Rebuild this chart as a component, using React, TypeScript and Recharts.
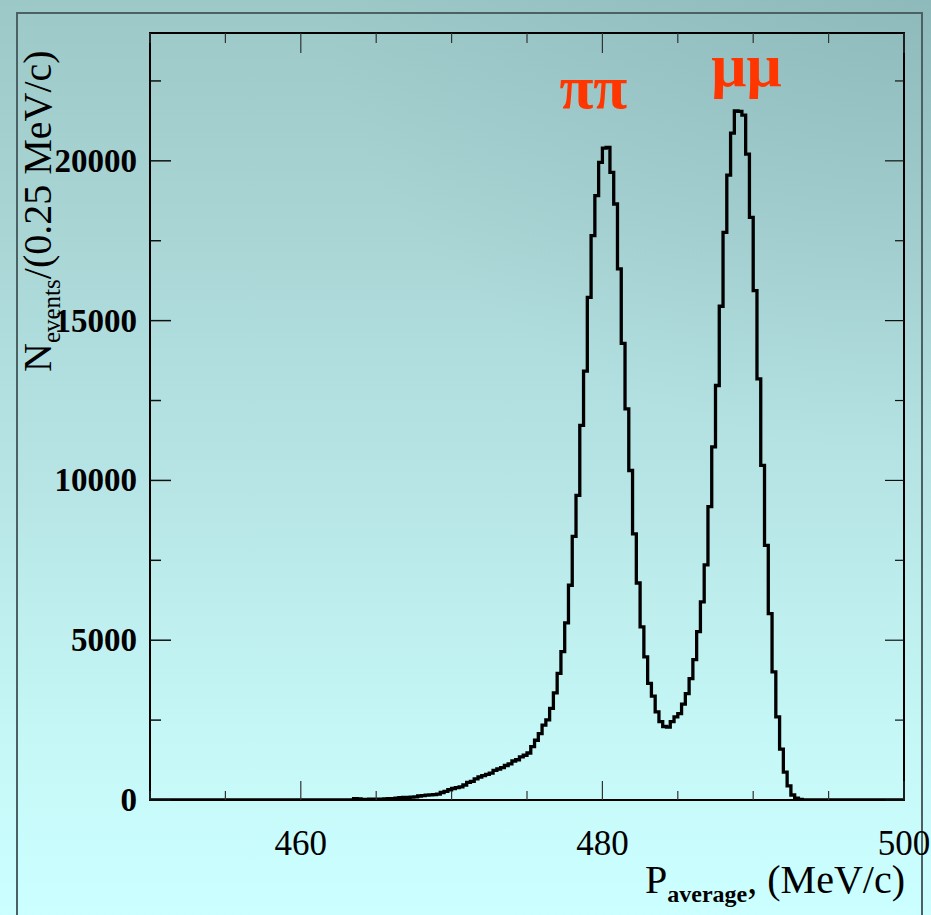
// Momentum spectrum of the pi+pi- / mu+mu- peaks, drawn as a ROOT-style step histogram

import React from 'react';
import { LineChart, Line, XAxis, YAxis, ReferenceArea, ReferenceDot } from 'recharts';

const binStart = 450;
const binWidth = 0.25;

// events per 0.25 MeV/c bin, 20 bins (5 MeV/c) per row
const counts450 = [0, 0, 0, 0, 0, 0, 0, 0, 0, 0, 0, 0, 0, 0, 0, 0, 0, 0, 0, 0];
const counts455 = [0, 0, 0, 0, 0, 0, 0, 0, 0, 0, 0, 0, 0, 0, 0, 0, 0, 0, 0, 0];
const counts460 = [0, 0, 0, 0, 0, 0, 0, 0, 0, 0, 0, 0, 0, 0, 40, 35, 15, 20, 25, 25];
const counts465 = [30, 30, 35, 40, 45, 55, 70, 80, 85, 90, 100, 125, 140, 150, 160, 170, 185, 235, 270, 320];
const counts470 = [360, 385, 410, 470, 550, 580, 660, 720, 760, 800, 840, 930, 970, 1010, 1080, 1130, 1220, 1260, 1350, 1400];
const counts475 = [1470, 1670, 1870, 2080, 2340, 2510, 2870, 3350, 3960, 4640, 5540, 6720, 8250, 9530, 11720, 13420, 15730, 17660, 18910, 19950];
const counts480 = [20400, 20420, 19640, 18650, 16620, 14290, 12240, 10310, 8330, 6790, 5420, 4480, 3650, 3250, 2760, 2450, 2300, 2280, 2450, 2600];
const counts485 = [2700, 3000, 3330, 3800, 4390, 5270, 6200, 7360, 9180, 11050, 12970, 15450, 17760, 19550, 20870, 21560, 21550, 21430, 20210, 18230];
const counts490 = [15940, 13180, 10470, 7970, 5830, 4010, 2600, 1590, 870, 440, 156, 55, 15, 0, 0, 0, 0, 0, 0, 0];
const counts495 = [0, 0, 0, 0, 0, 0, 0, 0, 0, 0, 0, 0, 0, 0, 0, 0, 0, 0, 0, 0];

const xTicks = [450, 455, 460, 465, 470, 475, 480, 485, 490, 495, 500];
const xLabels = [460, 480, 500];
const yTicks = [0, 2500, 5000, 7500, 10000, 12500, 15000, 17500, 20000, 22500];
const yLabels = [0, 5000, 10000, 15000, 20000];

const annotations = [
  { text: 'ππ', p: 479.4, n: 21650 },
  { text: 'μμ', p: 489.55, n: 22350 },
];

const allCounts = [
  ...counts450, ...counts455, ...counts460, ...counts465, ...counts470,
  ...counts475, ...counts480, ...counts485, ...counts490, ...counts495,
];

const data = allCounts.map((n, i) => ({ p: binStart + i * binWidth, n }));
// closing edge of the last bin so the step reaches 500
data.push({ p: binStart + allCounts.length * binWidth, n: allCounts[allCounts.length - 1] });

const W = 931;
const H = 915;
const PLOT_LEFT = 150;
const PLOT_RIGHT = 904;
const PLOT_TOP = 33;
const PLOT_BOTTOM = 800;

const serif = '"Liberation Serif", "Times New Roman", serif';

const XTick = (props: any) => {
  const { x, payload } = props;
  const v = payload.value;
  const major = xLabels.includes(v);
  const len = major ? 19 : 9;
  return (
    <g>
      <line x1={x} y1={PLOT_BOTTOM} x2={x} y2={PLOT_BOTTOM - len} stroke="#333" strokeWidth={1.2} />
      <line x1={x} y1={PLOT_TOP} x2={x} y2={PLOT_TOP + len + 1} stroke="#333" strokeWidth={1.2} />
      {major && (
        <text x={x} y={855} textAnchor="middle" fontFamily={serif} fontSize={35} fill="#000">
          {v}
        </text>
      )}
    </g>
  );
};

const YTick = (props: any) => {
  const { y, payload } = props;
  const v = payload.value;
  const major = yLabels.includes(v);
  return (
    <g>
      <line x1={PLOT_LEFT} y1={y} x2={PLOT_LEFT + (major ? 21 : 11)} y2={y} stroke="#111" strokeWidth={1.5} />
      <line x1={PLOT_RIGHT} y1={y} x2={PLOT_RIGHT - (major ? 19 : 9)} y2={y} stroke="#111" strokeWidth={1.2} />
      {major && (
        <text x={137} y={y + 11} textAnchor="end" fontFamily={serif} fontWeight="bold" fontSize={33} fill="#000">
          {v}
        </text>
      )}
    </g>
  );
};

const XTitle = () => (
  <text x={PLOT_RIGHT + 1} y={893} textAnchor="end" fontFamily={serif} fontSize={40} fill="#000">
    P
    <tspan fontSize={24} fontWeight="bold" dy={9}>average</tspan>
    <tspan dy={-9}>, (MeV/c)</tspan>
  </text>
);

const YTitle = () => (
  <text
    x={51}
    y={372}
    transform="rotate(-90 51 372)"
    fontFamily={serif}
    fontSize={40}
    fill="#000"
  >
    N
    <tspan fontSize={25} dy={9}>events</tspan>
    <tspan dy={-9}>/(0.25 MeV/c)</tspan>
  </text>
);

const annoShape = (text: string) => (props: any) => (
  <text
    x={props.cx}
    y={props.cy}
    textAnchor="middle"
    fontFamily={serif}
    fontWeight="bold"
    fontSize={62}
    fill="#ff3600"
  >
    {text}
  </text>
);

export default function App() {
  return (
    <div
      style={{
        position: 'absolute',
        left: 0,
        top: 0,
        width: W,
        height: H,
        overflow: 'hidden',
        background:
          'radial-gradient(ellipse 65% 50% at 100% 0%, rgba(95,135,145,0.22), rgba(95,135,145,0) 100%),' +
          'linear-gradient(180deg, #9cc8c8 0%, #a9d5d5 25%, #b8e6e6 55%, #c5f7f7 80%, #ccffff 100%)',
      }}
    >
      <div
        style={{
          position: 'absolute',
          left: 16,
          top: 12,
          width: 907,
          height: 920,
          border: '2px solid #4b6163',
          boxSizing: 'border-box',
        }}
      />
      <div style={{ position: 'absolute', left: 0, top: 0 }}>
        <LineChart
          width={W}
          height={H}
          data={data}
          margin={{ top: PLOT_TOP, right: W - PLOT_RIGHT, left: PLOT_LEFT - 60, bottom: H - PLOT_BOTTOM - 30 }}
        >
          <XAxis
            dataKey="p"
            type="number"
            domain={[450, 500]}
            ticks={xTicks}
            interval={0}
            allowDataOverflow
            height={30}
            axisLine={false}
            tickLine={false}
            tick={<XTick />}
            label={<XTitle />}
          />
          <YAxis
            type="number"
            domain={[0, 24000]}
            ticks={yTicks}
            interval={0}
            allowDataOverflow
            width={60}
            axisLine={false}
            tickLine={false}
            tick={<YTick />}
            label={<YTitle />}
          />
          <ReferenceArea x1={450} x2={500} y1={0} y2={24000} fill="none" stroke="#000" strokeWidth={2} fillOpacity={0} />
          <Line
            type="stepAfter"
            dataKey="n"
            stroke="#000"
            strokeWidth={3.3}
            dot={false}
            activeDot={false}
            isAnimationActive={false}
          />
          {annotations.map((a) => (
            <ReferenceDot key={a.text} x={a.p} y={a.n} r={1} shape={annoShape(a.text)} />
          ))}
        </LineChart>
      </div>
    </div>
  );
}
